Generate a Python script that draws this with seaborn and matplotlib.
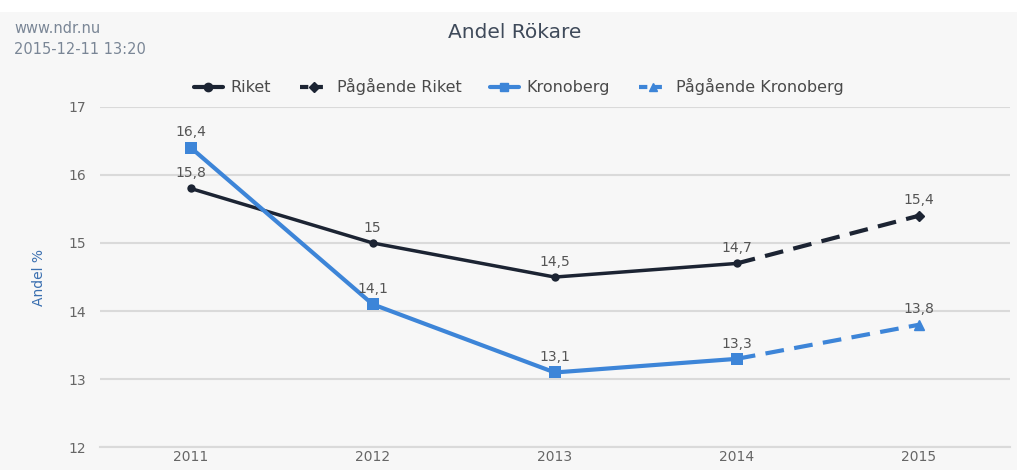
import matplotlib
matplotlib.use("Agg")
import matplotlib.pyplot as plt
import seaborn as sns
import pandas as pd
from matplotlib.patches import Rectangle
from matplotlib.lines import Line2D

# data
years = [2011, 2012, 2013, 2014]
riket = [15.8, 15.0, 14.5, 14.7]
kronoberg = [16.4, 14.1, 13.1, 13.3]
years_pag = [2014, 2015]
riket_pag = [14.7, 15.4]
kronoberg_pag = [13.3, 13.8]
yticks = [12, 13, 14, 15, 16, 17]

dark = '#1c2433'
blue = '#3d85d8'
bg = '#f7f7f7'

sns.set_theme(style='white')
plt.rcParams['font.family'] = ['DejaVu Sans']

fig = plt.figure(figsize=(10.17, 4.70), dpi=100, facecolor=bg)
fig.patches.append(Rectangle((0, 0.975), 1, 0.025, transform=fig.transFigure,
                             facecolor='white', edgecolor='none', zorder=0))
ax = fig.add_axes([0.098, 0.048, 0.895, 0.725])
ax.set_facecolor(bg)

df_r = pd.DataFrame({'year': years, 'val': riket})
df_k = pd.DataFrame({'year': years, 'val': kronoberg})
df_rp = pd.DataFrame({'year': years_pag, 'val': riket_pag})
df_kp = pd.DataFrame({'year': years_pag, 'val': kronoberg_pag})

sns.lineplot(data=df_r, x='year', y='val', ax=ax, color=dark, lw=2.5,
             marker='o', markersize=6, markeredgewidth=0, zorder=4)
sns.lineplot(data=df_rp, x='year', y='val', ax=ax, color=dark, lw=3,
             linestyle=(0, (4.5, 2.5)), zorder=3)
ax.plot([2015], [riket_pag[-1]], marker='D', color=dark, markersize=5, zorder=4)
sns.lineplot(data=df_k, x='year', y='val', ax=ax, color=blue, lw=3,
             marker='s', markersize=8, markeredgewidth=0, zorder=4)
sns.lineplot(data=df_kp, x='year', y='val', ax=ax, color=blue, lw=3,
             linestyle=(0, (4.5, 2.5)), zorder=3)
ax.plot([2015], [kronoberg_pag[-1]], marker='^', color=blue, markersize=7, zorder=4)

# data labels
lab_color = '#555555'
for xs, ys in [(years + [2015], riket + [riket_pag[-1]]),
               (years + [2015], kronoberg + [kronoberg_pag[-1]])]:
    for x, y in zip(xs, ys):
        txt = f'{y:g}'.replace('.', ',')
        ax.annotate(txt, (x, y), xytext=(0, 6), textcoords='offset points',
                    ha='center', va='bottom', fontsize=10, color=lab_color, zorder=5)

ax.set_xlim(2010.5, 2015.5)
ax.set_ylim(12, 17)
ax.set_xticks(years + [2015])
ax.set_yticks(yticks)
ax.tick_params(axis='both', labelsize=10, labelcolor='#666666', length=0)
ax.tick_params(axis='x', pad=2)
ax.tick_params(axis='y', pad=10)
ax.yaxis.grid(True, color='#dadada', lw=1.5)
ax.set_axisbelow(True)
for s in ['top', 'right', 'left']:
    ax.spines[s].set_visible(False)
ax.spines['bottom'].set_color('#dadada')
ax.spines['bottom'].set_linewidth(1.5)
ax.set_xlabel('')
ax.set_ylabel('Andel %', color='#3a6fb0', fontsize=10, labelpad=16)

fig.text(0.506, 0.93, 'Andel Rökare', ha='center', va='center', fontsize=14.5, color='#3f4a5a')
fig.text(0.014, 0.94, 'www.ndr.nu', ha='left', va='center', fontsize=10.5, color='#7a8696')
fig.text(0.014, 0.895, '2015-12-11 13:20', ha='left', va='center', fontsize=10.5, color='#7a8696')

handles = [
    Line2D([], [], color=dark, lw=3, marker='o', markersize=6),
    Line2D([], [], color=dark, lw=3, ls=(0, (2, 1.5)), marker='D', markersize=5),
    Line2D([], [], color=blue, lw=3, marker='s', markersize=6),
    Line2D([], [], color=blue, lw=3, ls=(0, (2, 1.5)), marker='^', markersize=6),
]
labels = ['Riket', 'Pågående Riket', 'Kronoberg', 'Pågående Kronoberg']
leg = fig.legend(handles, labels, loc='center', bbox_to_anchor=(0.51, 0.815), ncol=4,
                 frameon=False, fontsize=11.5, handlelength=1.8, handletextpad=0.5,
                 columnspacing=1.8)
for t in leg.get_texts():
    t.set_color('#4a4a4a')

fig.savefig('out.png', dpi=100, facecolor=bg)
